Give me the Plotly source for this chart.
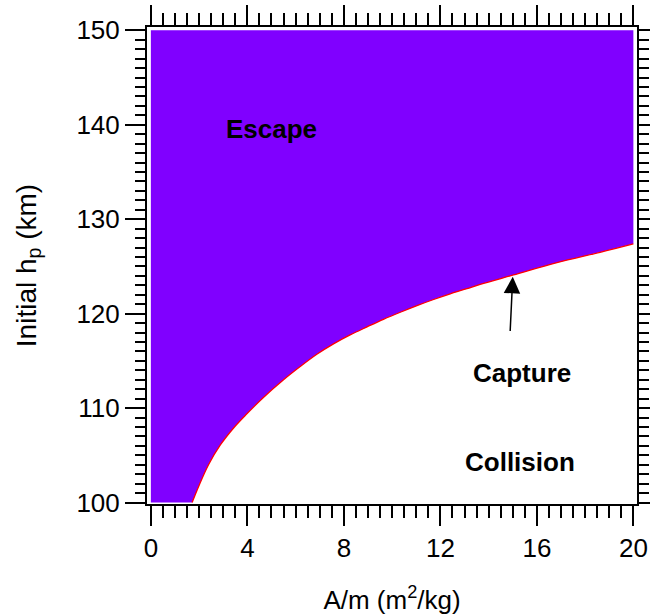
import plotly.graph_objects as go

# Boundary between escape (above) and collision (below) regions
boundary_am = [1.71, 1.98, 2.39, 2.88, 3.43, 3.98, 4.61, 5.50, 6.19, 6.88, 7.57,
               8.26, 8.96, 9.64, 10.34, 11.03, 11.72, 12.41, 13.10, 13.65,
               15.03, 16.83, 18.62, 20.0]
boundary_hp = [100.0, 101.7, 104.0, 106.1, 107.9, 109.4, 111.0, 113.0, 114.4,
               115.7, 116.8, 117.75, 118.6, 119.4, 120.15, 120.85, 121.5,
               122.1, 122.65, 123.1, 124.1, 125.4, 126.5, 127.4]

x_min, x_max = 0, 20
y_min, y_max = 100, 150

x_ticks = [0, 4, 8, 12, 16, 20]
y_ticks = [100, 110, 120, 130, 140, 150]

labels = ["Escape", "Capture", "Collision"]
label_x = [5.0, 15.4, 15.3]
label_y = [139.5, 113.7, 104.3]

arrow_tip = (15.0, 123.9)
arrow_tail = (14.89, 118.0)

FONT = "Liberation Sans, Arial, sans-serif"
FS = 26

fig = go.Figure()

# Outline of the upper-left corner of the escape region (left and top edges)
fig.add_trace(go.Scatter(
    x=[x_min, x_min, x_max], y=[y_min, y_max, y_max], mode="lines",
    line=dict(width=0, color="rgba(0,0,0,0)"), hoverinfo="skip", showlegend=False))

# Escape region: filled between the boundary curve and the corner outline
fig.add_trace(go.Scatter(
    x=boundary_am, y=boundary_hp, mode="lines", fill="tonexty",
    fillcolor="rgb(128,0,255)",
    line=dict(color="rgb(255,0,0)", width=1.3, shape="spline", smoothing=1.0),
    hoverinfo="skip", showlegend=False))

for t, lx, ly in zip(labels, label_x, label_y):
    fig.add_annotation(x=lx, y=ly, text="<b>%s</b>" % t, showarrow=False,
                       font=dict(family=FONT, size=FS, color="black"))

fig.add_annotation(x=arrow_tip[0], y=arrow_tip[1], ax=arrow_tail[0], ay=arrow_tail[1],
                   axref="x", ayref="y", xref="x", yref="y", text="",
                   showarrow=True, arrowhead=2, arrowsize=2.2, arrowwidth=1.5,
                   arrowcolor="black")

axis_common = dict(
    showline=True, linecolor="black", linewidth=2, mirror="allticks",
    ticks="outside", ticklen=20, tickwidth=1.5, tickcolor="black",
    showgrid=False, zeroline=False, automargin=False,
    tickfont=dict(family=FONT, size=FS, color="black"),
)

fig.update_xaxes(
    range=[-0.16, 20.15], tickvals=x_ticks,
    minor=dict(dtick=0.5, tick0=0, ticks="outside", ticklen=12, tickwidth=1.5,
               tickcolor="black", showgrid=False),
    title=dict(text="A/m (m<sup>2</sup>/kg)", font=dict(family=FONT, size=FS, color="black"),
               standoff=30),
    **axis_common)
fig.update_yaxes(
    range=[99.85, 150.35], tickvals=y_ticks,
    minor=dict(dtick=1, tick0=100, ticks="outside", ticklen=10, tickwidth=1.5,
               tickcolor="black", showgrid=False),
    title=dict(text="Initial h<sub>p</sub> (km)", font=dict(family=FONT, size=28, color="black"),
               standoff=32),
    **axis_common)

fig.update_layout(
    width=650, height=615,
    margin=dict(l=147, r=13, t=27, b=111),
    plot_bgcolor="white", paper_bgcolor="white",
    showlegend=False,
)

fig.write_html("out.html")
